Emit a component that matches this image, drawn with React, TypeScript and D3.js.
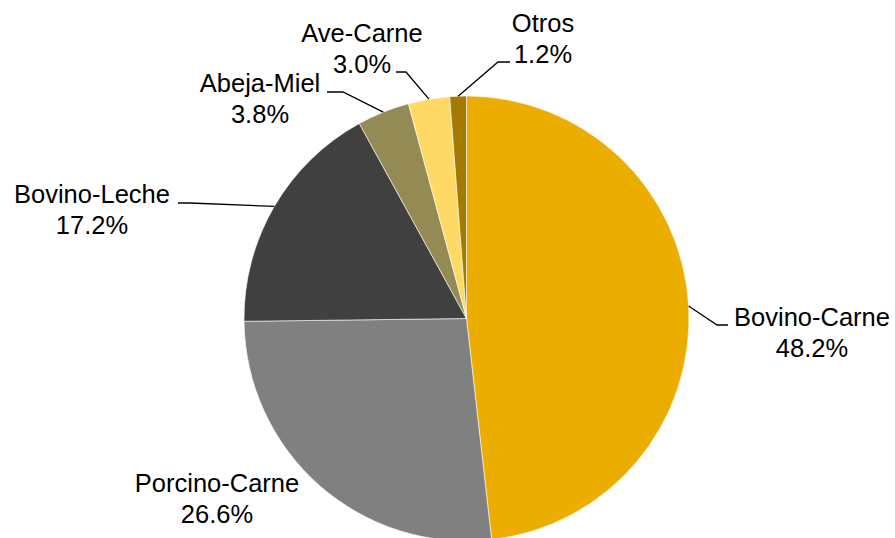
// @ts-nocheck
import React, { useEffect, useRef } from "react";
import * as d3 from "d3";

const categories = ["Bovino-Carne", "Porcino-Carne", "Bovino-Leche", "Abeja-Miel", "Ave-Carne", "Otros"];
const shares = [48.2, 26.6, 17.2, 3.8, 3.0, 1.2];
const colors = ["#EBAD00", "#808080", "#404040", "#948A54", "#FFD966", "#A57A00"];

// label layout: text centre, first baseline, leader elbow and end (null = no leader)
const labelX = [812, 217, 92, 260, 362, 543];
const labelY = [326, 492, 203, 92, 42, 32];
const elbows = [[717, 325], null, [190, 203], [343, 92], [406, 72], [498, 62]];
const leaderEnds = [[728, 325], null, [178, 203], [327, 92], [396, 72], [510, 62]];

export default function App() {
  const svgRef = useRef(null);

  useEffect(() => {
    const width = 895;
    const height = 538;
    const svg = d3.select(svgRef.current);
    svg.selectAll("*").remove();
    svg.attr("viewBox", `0 0 ${width} ${height}`);

    const cx = 466.5;
    const cy = 318.5;
    const r = 222.5;

    const data = categories.map((c, i) => ({ name: c, value: shares[i], i }));
    const pie = d3.pie().sort(null).value(d => d.value).startAngle(0).endAngle(2 * Math.PI);
    const arcs = pie(data);
    const arc = d3.arc().innerRadius(0).outerRadius(r);

    const g = svg.append("g").attr("transform", `translate(${cx},${cy})`);
    g.selectAll("path.slice")
      .data(arcs)
      .join("path")
      .attr("class", "slice")
      .attr("d", arc)
      .attr("fill", d => colors[d.data.i])
      .attr("stroke", "#ffffff")
      .attr("stroke-width", 0.6);

    // leader lines
    arcs.forEach(a => {
      const i = a.data.i;
      if (!elbows[i]) return;
      const mid = (a.startAngle + a.endAngle) / 2;
      const sx = cx + r * Math.sin(mid);
      const sy = cy - r * Math.cos(mid);
      svg.append("polyline")
        .attr("points", `${sx},${sy} ${elbows[i][0]},${elbows[i][1]} ${leaderEnds[i][0]},${leaderEnds[i][1]}`)
        .attr("fill", "none")
        .attr("stroke", "#000")
        .attr("stroke-width", 1.3);
    });

    // labels
    const fmt = d3.format(".1f");
    arcs.forEach(a => {
      const i = a.data.i;
      const t = svg.append("text")
        .attr("text-anchor", "middle")
        .attr("font-family", "'Liberation Sans', Arial, sans-serif")
        .attr("font-size", 25.5)
        .attr("fill", "#000");
      t.append("tspan").attr("x", labelX[i]).attr("y", labelY[i]).text(categories[i]);
      t.append("tspan").attr("x", labelX[i]).attr("y", labelY[i] + 31).text(fmt(shares[i]) + "%");
    });
  }, []);

  return (
    <div style={{ position: "fixed", left: 0, top: 0, width: 895, height: 538, overflow: "hidden", background: "#fff" }}>
      <svg ref={svgRef} width={895} height={538} style={{ display: "block" }}></svg>
    </div>
  );
}
